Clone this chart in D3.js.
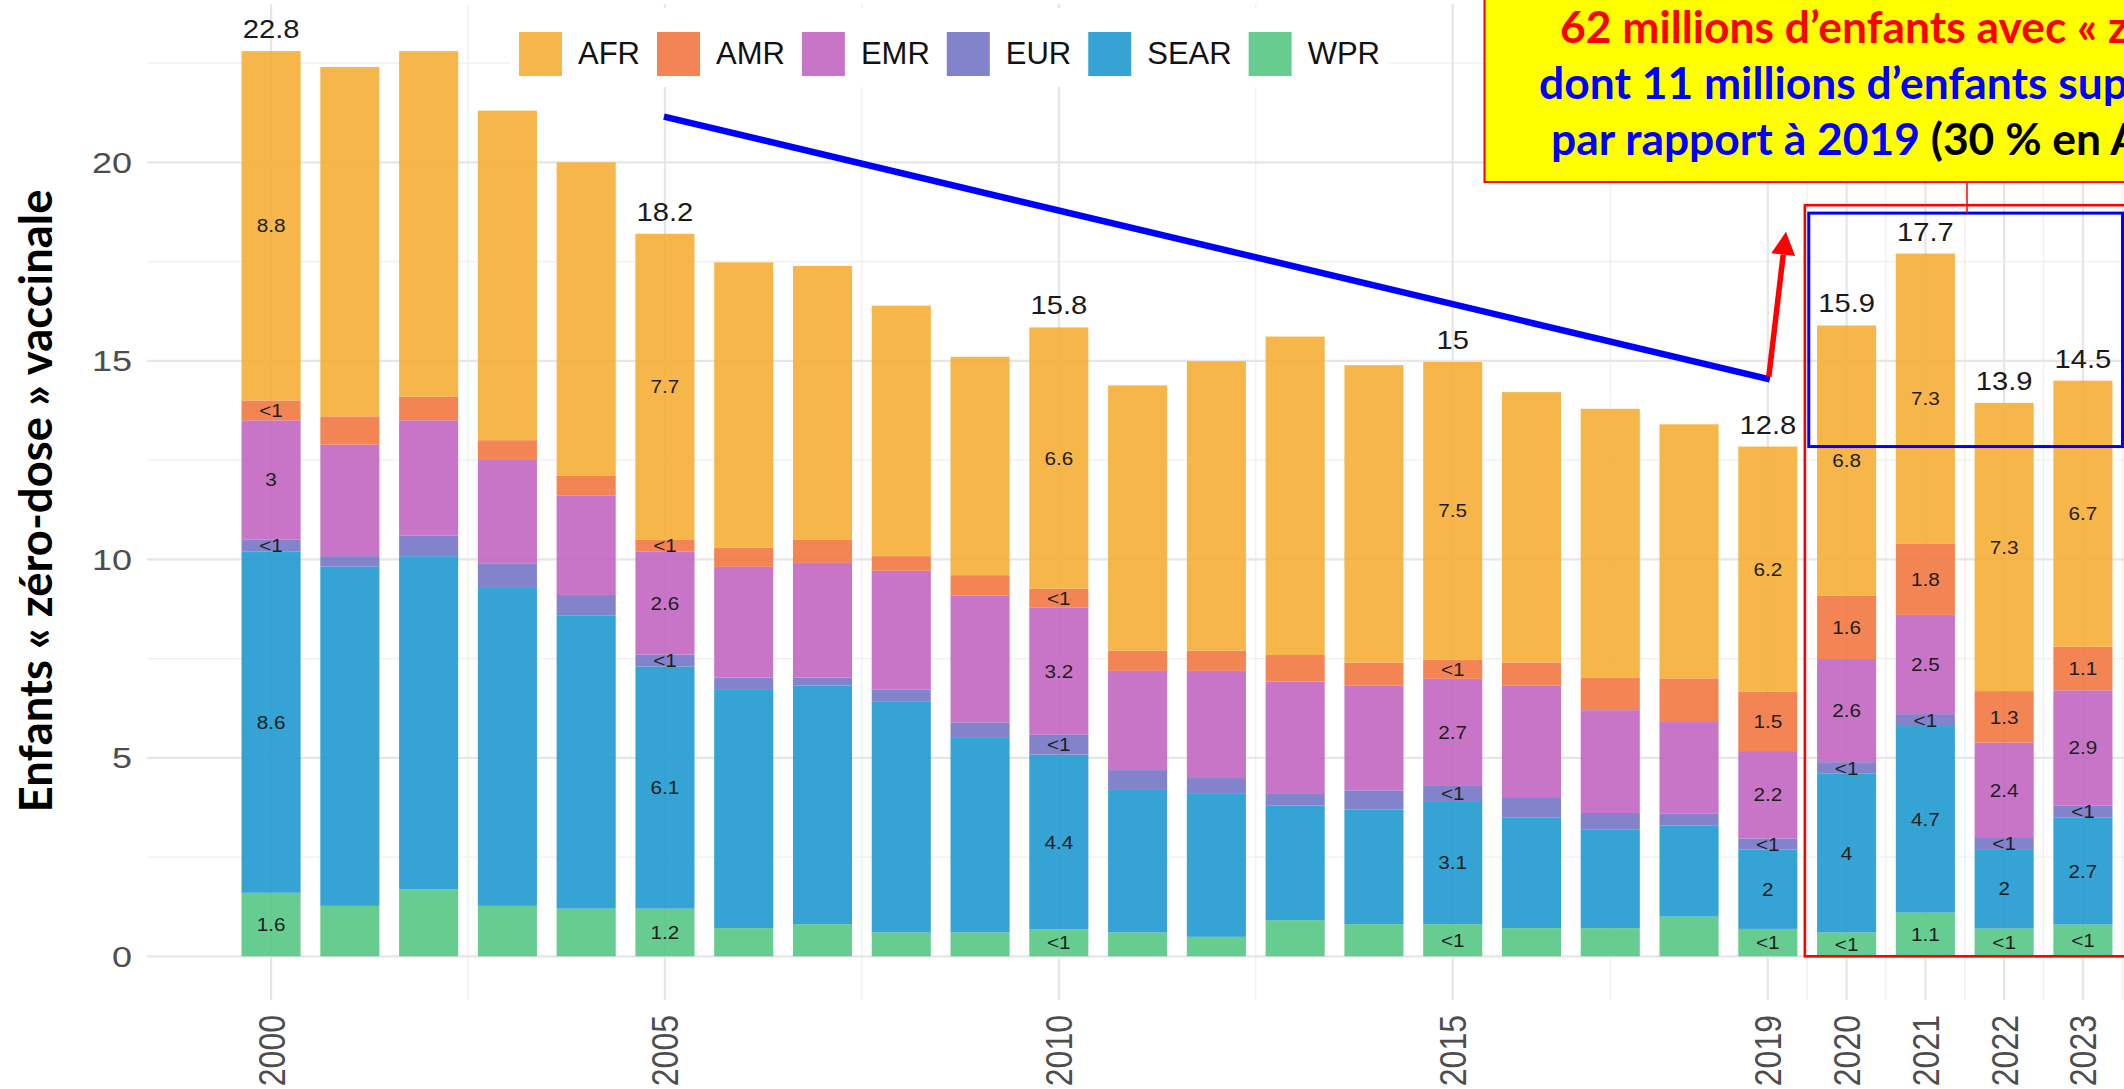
<!DOCTYPE html>
<html>
<head>
<meta charset="utf-8">
<script src="https://cdn.jsdelivr.net/npm/d3@7"></script>
<style>
  body { margin: 0; background: #fff; }
  svg { display: block; }
  text { font-family: "Liberation Sans", Arial, sans-serif; }
</style>
</head>
<body>
<svg id="chart" width="2124" height="1089"></svg>
<script>
// values in millions of children
const years = d3.range(2000, 2024);
const wpr  = [1.6, 1.27, 1.69, 1.27, 1.2, 1.2, 0.71, 0.81, 0.6, 0.6, 0.68, 0.6, 0.49, 0.91, 0.81, 0.81, 0.71, 0.71, 1.0, 0.69, 0.6, 1.1, 0.7, 0.8];
const sear = [8.6, 8.55, 8.39, 8.03, 7.38, 6.1, 6.02, 6.01, 5.81, 4.92, 4.4, 3.59, 3.62, 2.89, 2.89, 3.1, 2.79, 2.49, 2.3, 2.0, 4.0, 4.7, 2.0, 2.7];
const eur  = [0.3, 0.26, 0.52, 0.6, 0.52, 0.3, 0.29, 0.2, 0.31, 0.37, 0.5, 0.5, 0.38, 0.31, 0.48, 0.38, 0.51, 0.41, 0.3, 0.28, 0.29, 0.3, 0.28, 0.3];
const emr  = [3.0, 2.81, 2.9, 2.6, 2.5, 2.6, 2.79, 2.89, 2.99, 3.2, 3.2, 2.5, 2.7, 2.81, 2.64, 2.7, 2.81, 2.59, 2.3, 2.2, 2.6, 2.5, 2.4, 2.9];
const amr  = [0.5, 0.71, 0.6, 0.5, 0.5, 0.3, 0.48, 0.59, 0.37, 0.51, 0.48, 0.51, 0.51, 0.67, 0.58, 0.48, 0.58, 0.82, 1.1, 1.5, 1.6, 1.8, 1.3, 1.1];
const afr  = [8.8, 8.8, 8.7, 8.3, 7.9, 7.7, 7.19, 6.89, 6.31, 5.5, 6.58, 6.68, 7.29, 8.02, 7.49, 7.5, 6.81, 6.77, 6.4, 6.17, 6.8, 7.3, 7.26, 6.7];

const legendKeys = ["AFR", "AMR", "EMR", "EUR", "SEAR", "WPR"];
const stackKeys = ["WPR", "SEAR", "EUR", "EMR", "AMR", "AFR"];
const regionColors = ["#F5AE36", "#F27741", "#C266C2", "#7575C6", "#1F9ACF", "#56C683"];

const labelledYears = [2000, 2005, 2010, 2015, 2019, 2020, 2021, 2022, 2023];
const xMajorTicks = [2000, 2005, 2010, 2015, 2019, 2020, 2021, 2022, 2023];
const xMinorTicks = [2002.5, 2007.5, 2012.5, 2017, 2019.5, 2020.5, 2021.5, 2022.5, 2023.5];
const yMajorTicks = [0, 5, 10, 15, 20];
const yMinorTicks = [2.5, 7.5, 12.5, 17.5, 22.5];

const yTitle = "Enfants « zéro-dose » vaccinale";
const boxLines = [
    [{t: "62 millions d’enfants avec « zéro-dose »", c: "#FF0000"}],
    [{t: "dont 11 millions d’enfants supplémentaires", c: "#0000FF"}],
    [{t: "par rapport à 2019 ", c: "#0000FF"}, {t: "(30 % en Afrique)", c: "#000000"}]
];

const svg = d3.select("#chart");
const W = 2124, H = 1089;
const panel = {left: 147, top: 4, bottom: 1000};

const table = years.map((yr, i) => ({
    year: String(yr), WPR: wpr[i], SEAR: sear[i], EUR: eur[i], EMR: emr[i], AMR: amr[i], AFR: afr[i]
}));
const series = d3.stack().keys(stackKeys)(table);

const x = d3.scaleBand()
    .domain(years.map(String))
    .range([panel.left, 2207])
    .paddingInner(0.25)
    .paddingOuter(1.2);
const bw = x.bandwidth();
// continuous position for gridlines / annotations between bars
const xLin = d3.scaleLinear()
    .domain([2000, 2023])
    .range([x("2000") + bw / 2, x("2023") + bw / 2]);

const y = d3.scaleLinear().domain([0, 24]).range([956.3, 956.3 - 24 * 39.7]);

const color = d3.scaleOrdinal().domain(legendKeys).range(regionColors);
const fmt = d3.format(".1~f");
const segLabel = v => v < 1 ? "<1" : fmt(v);

// grid
const grid = svg.append("g");
grid.selectAll("line.ymin").data(yMinorTicks).join("line")
    .attr("x1", panel.left).attr("x2", W)
    .attr("y1", d => y(d)).attr("y2", d => y(d))
    .attr("stroke", "#efefef").attr("stroke-width", 1.3);
grid.selectAll("line.xmin").data(xMinorTicks).join("line")
    .attr("x1", d => xLin(d)).attr("x2", d => xLin(d))
    .attr("y1", panel.top).attr("y2", panel.bottom)
    .attr("stroke", "#efefef").attr("stroke-width", 1.3);
grid.selectAll("line.ymaj").data(yMajorTicks).join("line")
    .attr("x1", panel.left).attr("x2", W)
    .attr("y1", d => y(d)).attr("y2", d => y(d))
    .attr("stroke", "#e6e6e6").attr("stroke-width", 2.2);
grid.selectAll("line.xmaj").data(xMajorTicks).join("line")
    .attr("x1", d => xLin(d)).attr("x2", d => xLin(d))
    .attr("y1", panel.top).attr("y2", panel.bottom)
    .attr("stroke", "#e6e6e6").attr("stroke-width", 2.2);

// bars
const layers = svg.append("g").selectAll("g").data(series).join("g")
    .attr("fill", d => color(d.key))
    .attr("fill-opacity", 0.9);
layers.selectAll("rect").data(d => d).join("rect")
    .attr("x", d => x(d.data.year))
    .attr("width", bw)
    .attr("y", d => y(d[1]))
    .attr("height", d => y(d[0]) - y(d[1]));

// segment labels for selected years
const labelled = new Set(labelledYears.map(String));
const segData = [];
series.forEach(s => s.forEach(d => {
    if (labelled.has(d.data.year)) segData.push({year: d.data.year, v: d[1] - d[0], mid: (d[0] + d[1]) / 2});
}));
svg.append("g").selectAll("text").data(segData).join("text")
    .attr("transform", d => `translate(${x(d.year) + bw / 2},${y(d.mid)}) scale(1.12,1)`)
    .attr("text-anchor", "middle")
    .attr("dominant-baseline", "central")
    .attr("font-size", 18.5)
    .attr("fill", "#1e1e1e")
    .text(d => segLabel(d.v));

// totals
const totals = table.filter(d => labelled.has(d.year))
    .map(d => ({year: d.year, total: d3.sum(stackKeys, k => d[k])}));
svg.append("g").selectAll("text").data(totals).join("text")
    .attr("transform", d => `translate(${x(d.year) + bw / 2},${y(d.total) - 13}) scale(1.1,1)`)
    .attr("text-anchor", "middle")
    .attr("font-size", 26.5)
    .attr("fill", "#1a1a1a")
    .text(d => fmt(d.total));

// y axis tick labels
svg.append("g").selectAll("text").data(yMajorTicks).join("text")
    .attr("transform", d => `translate(132,${y(d)}) scale(1.2,1)`)
    .attr("text-anchor", "end")
    .attr("dominant-baseline", "central")
    .attr("font-size", 30)
    .attr("fill", "#4d4d4d")
    .text(d => d);

// x axis tick labels
svg.append("g").selectAll("text").data(xMajorTicks).join("text")
    .attr("transform", d => `translate(${xLin(d)},1015) scale(1.17,1) rotate(-90)`)
    .attr("text-anchor", "end")
    .attr("dominant-baseline", "central")
    .attr("font-size", 32)
    .attr("fill", "#4d4d4d")
    .text(d => d);

// fit a Calibri-like bold text to a measured width
const calFamily = "Lato, 'Open Sans', sans-serif";
function fitSize(sample, targetWidth) {
    const t = svg.append("text")
        .style("font-family", calFamily).attr("font-weight", 700)
        .attr("font-size", 100).text(sample);
    const w = t.node().getComputedTextLength();
    t.remove();
    return 100 * targetWidth / w;
}

// y title
const titleSize = fitSize(yTitle, 623);
svg.append("text")
    .attr("transform", "translate(52,501) rotate(-90)")
    .attr("text-anchor", "middle")
    .style("font-family", calFamily)
    .attr("font-weight", 700)
    .attr("font-size", titleSize)
    .attr("fill", "#000")
    .text(yTitle);

// legend
const legend = svg.append("g");
const legendBg = legend.append("rect").attr("fill", "#fff");
let lx = 519;
legendKeys.forEach(k => {
    legend.append("rect")
        .attr("x", lx).attr("y", 32).attr("width", 43).attr("height", 44)
        .attr("fill", color(k)).attr("fill-opacity", 0.9);
    const t = legend.append("text")
        .attr("x", lx + 59).attr("y", 63.5)
        .attr("font-size", 31)
        .attr("fill", "#111")
        .text(k);
    lx = lx + 59 + t.node().getComputedTextLength() + 17;
});
legendBg.attr("x", 510).attr("y", 8).attr("width", lx - 510 - 8).attr("height", 79);

// blue trend line, 2005 -> 2019
const ann = svg.append("g");
ann.append("line")
    .attr("x1", xLin(2005) - 1).attr("y1", y(21.15))
    .attr("x2", xLin(2019) + 2).attr("y2", y(14.53))
    .attr("stroke", "#0000FF").attr("stroke-width", 6.5);

// red arrow going up from the end of the blue line
const a0 = [xLin(2019) + 1, y(14.6)];
const a1 = [xLin(2019.23), y(18.25)];
const ang = Math.atan2(a1[1] - a0[1], a1[0] - a0[0]);
const headLen = 23, headHalf = 12;
const base = [a1[0] - headLen * Math.cos(ang), a1[1] - headLen * Math.sin(ang)];
ann.append("line")
    .attr("x1", a0[0]).attr("y1", a0[1])
    .attr("x2", base[0]).attr("y2", base[1])
    .attr("stroke", "#FF0000").attr("stroke-width", 5.5);
ann.append("polygon")
    .attr("points", [
        a1,
        [base[0] + headHalf * Math.sin(ang), base[1] - headHalf * Math.cos(ang)],
        [base[0] - headHalf * Math.sin(ang), base[1] + headHalf * Math.cos(ang)]
    ].map(p => p.join(",")).join(" "))
    .attr("fill", "#FF0000");

// boxes around 2020-2023
ann.append("rect")
    .attr("x", xLin(2019.47)).attr("y", y(18.92))
    .attr("width", 500).attr("height", y(0) - y(18.92))
    .attr("fill", "none").attr("stroke", "#FF0000").attr("stroke-width", 2.6);
ann.append("rect")
    .attr("x", xLin(2019.52)).attr("y", y(18.72))
    .attr("width", 2122.5 - xLin(2019.52)).attr("height", y(12.84) - y(18.72))
    .attr("fill", "none").attr("stroke", "#0000FF").attr("stroke-width", 3);
ann.append("line")
    .attr("x1", 1967).attr("x2", 1967)
    .attr("y1", 182).attr("y2", y(18.72))
    .attr("stroke", "#FF0000").attr("stroke-width", 1.5);

// yellow call-out box
ann.append("rect")
    .attr("x", 1484.5).attr("y", -5).attr("width", 700).attr("height", 187)
    .attr("fill", "#FFFF00").attr("stroke", "#FF0000").attr("stroke-width", 2);
const boxSize = fitSize("par rapport à 2019", 369);
const lineX = [1560, 1539, 1551];
const lineY = [43, 98.5, 155];
boxLines.forEach((parts, i) => {
    const t = ann.append("text")
        .attr("x", lineX[i]).attr("y", lineY[i])
        .style("font-family", calFamily)
        .attr("font-weight", 700)
        .attr("font-size", boxSize);
    parts.forEach(p => t.append("tspan").attr("fill", p.c).text(p.t));
});
</script>
</body>
</html>
